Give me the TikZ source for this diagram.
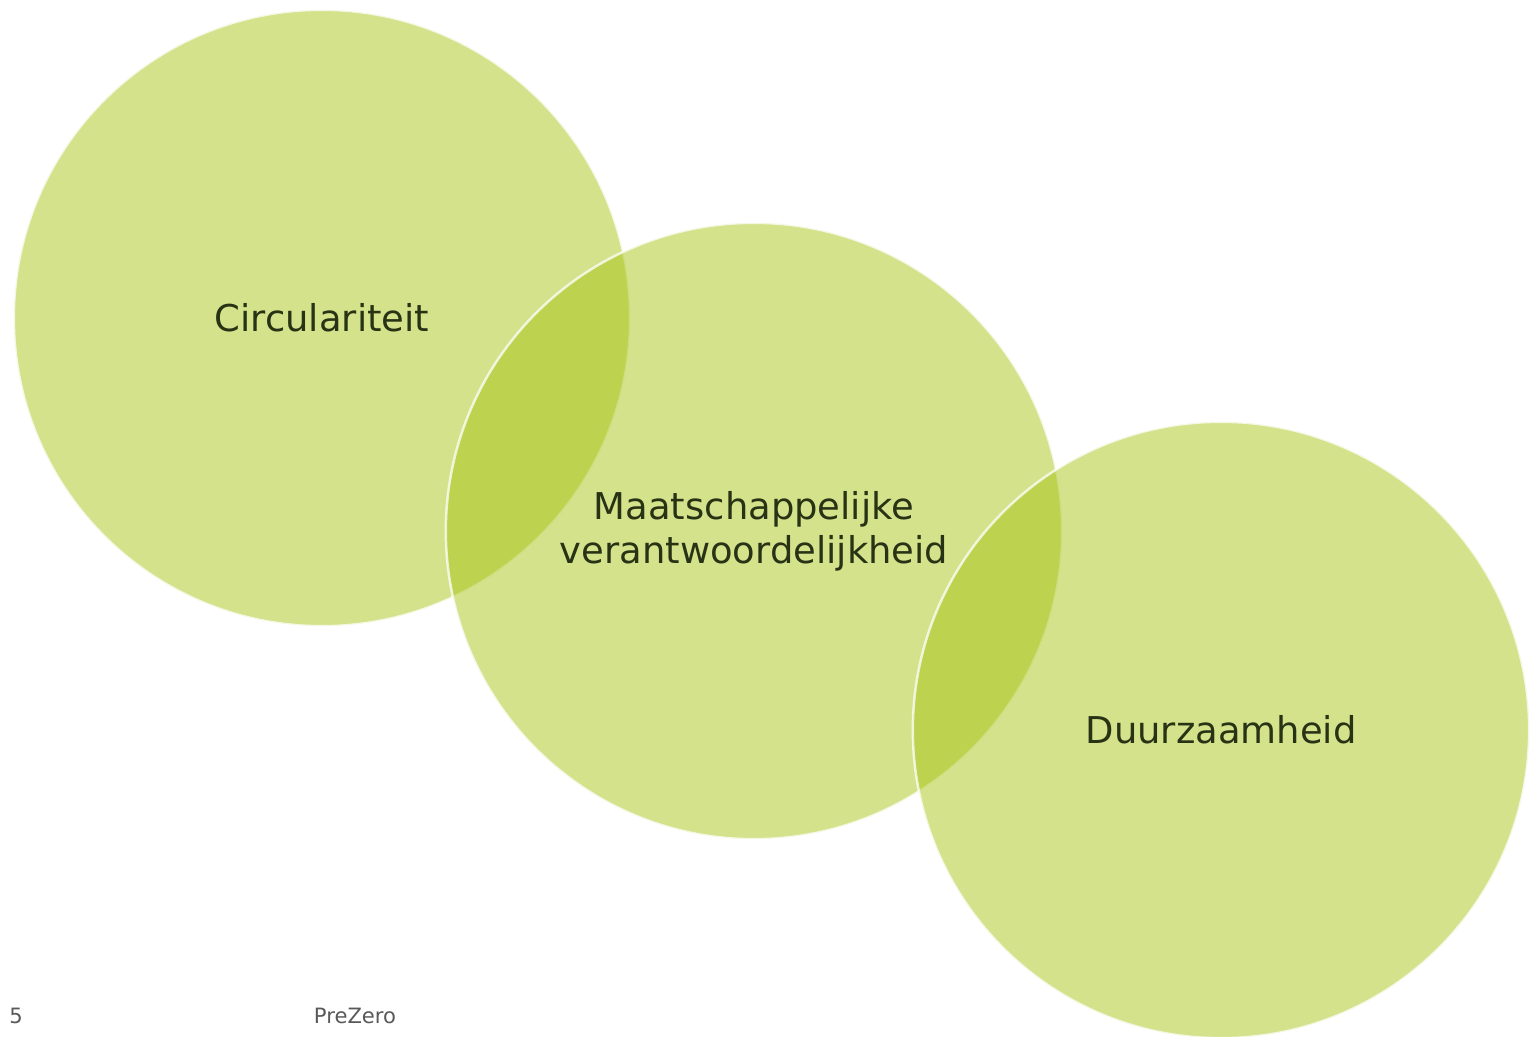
\documentclass[tikz,border=0pt]{standalone}
\usepackage{fontspec}
\setmainfont{DejaVu Sans}
\usepackage{xcolor}
\definecolor{bubblegreen}{RGB}{162,193,8}
\definecolor{bubbletext}{RGB}{40,50,20}
\definecolor{footgray}{RGB}{89,89,89}
\usetikzlibrary{shapes.geometric}

\begin{document}
\begin{tikzpicture}[x=0.01cm, y=-0.01cm,
    bubble/.style={circle, minimum size=6.16cm, inner sep=0pt,
        fill=bubblegreen, fill opacity=0.465, text opacity=1,
        draw=white, draw opacity=0.75, line width=0.7pt,
        text=bubbletext, align=center, font=\fontsize{10.5}{12.6}\selectfont},
    foot/.style={text=footgray, font=\fontsize{6}{7}\selectfont}]
    % Cadre de la page
    \useasboundingbox (0,0) rectangle (1530,1037);

    % Les trois cercles
    \node[bubble] (circ) at (322,318) {Circulariteit};
    \node[bubble] (maat) at (754,531) {Maatschappelijke\\verantwoordelijkheid};
    \node[bubble] (duur) at (1221,730) {Duurzaamheid};

    % Pied de page
    \node[foot] (num) at (16,1016) {5};
    \node[foot] (brand) at (355,1016) {PreZero};
\end{tikzpicture}
\end{document}
